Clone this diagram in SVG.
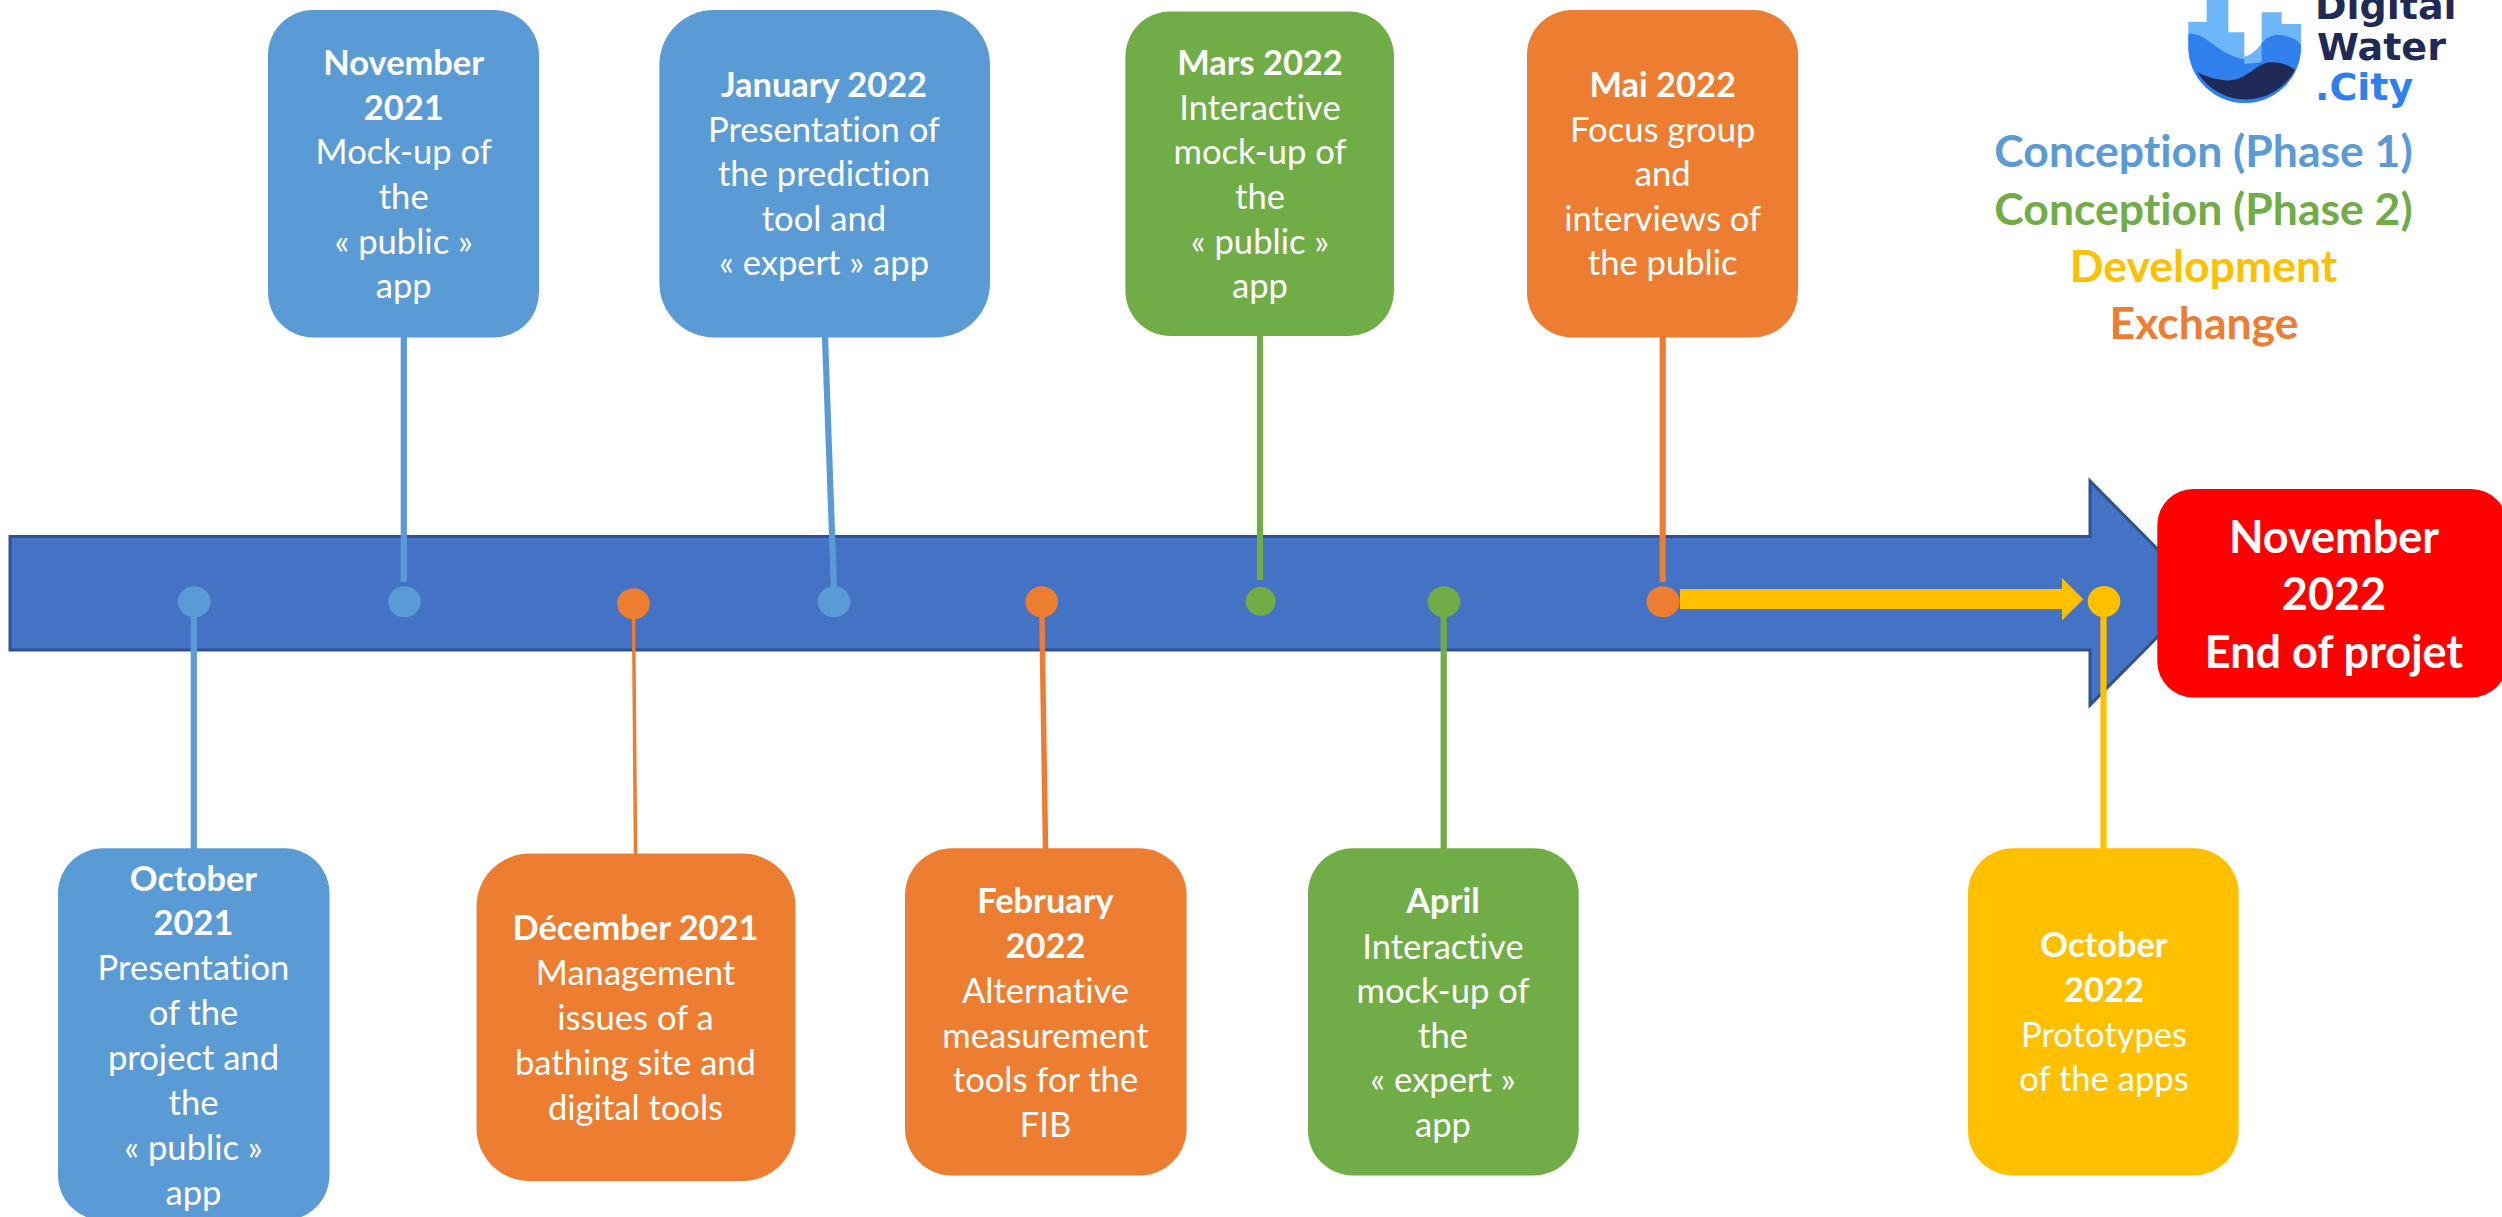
<svg xmlns="http://www.w3.org/2000/svg" width="2502" height="1217" viewBox="0 0 2502 1217">
<style>
text{font-family:"Lato","Noto Sans","Liberation Sans",sans-serif;text-anchor:middle;font-variant-ligatures:none}
.t{font-size:34.6px;fill:#fff}
.b{font-size:34.4px;fill:#fff;font-weight:700}
.big{font-size:45px;fill:#fff;font-weight:700}
.lg{font-size:44.5px;font-weight:700}
.blue{fill:#5B9BD5}.green{fill:#70AD47}.yellow{fill:#FFC000}.orange{fill:#ED7D31}
.sb{stroke:#5B9BD5}.sg{stroke:#70AD47}.sy{stroke:#FFC000}.so{stroke:#ED7D31}
.logo{font-family:"DejaVu Sans","Open Sans",sans-serif;font-size:38px;font-weight:700;text-anchor:start}
</style>
<rect width="2502" height="1217" fill="#fff"/>
<path id="timeline" d="M10,536.5H2090V481L2201,593L2090,705V650H10Z" fill="#4472C4" stroke="#2F528F" stroke-width="3"/>
<g id="connectors" fill="none" stroke-width="6.2">
<line class="sb" x1="193.8" y1="601" x2="193.8" y2="849"/>
<line class="sb" x1="403.8" y1="337" x2="403.8" y2="582"/>
<line class="so" x1="633.5" y1="604" x2="635.5" y2="854" stroke-width="3.5"/>
<line class="sb" x1="825" y1="337" x2="834" y2="590"/>
<line class="so" x1="1041.7" y1="601" x2="1045.5" y2="849" stroke-width="5.5"/>
<line class="sg" x1="1260" y1="336" x2="1260" y2="580"/>
<line class="sg" x1="1443.7" y1="601" x2="1443.7" y2="849"/>
<line class="so" x1="1662.7" y1="337" x2="1662.7" y2="582"/>
<line class="sy" x1="2103.5" y1="601" x2="2103.5" y2="849"/>
<path id="dev-arrow" class="yellow" stroke="none" d="M1680,589H2062V578L2083.3,599.3L2062,620.5V609H1680Z"/>
<g stroke="none">
<ellipse class="blue" cx="194.3" cy="601.7" rx="16.3" ry="15.5"/>
<ellipse class="blue" cx="404.5" cy="601.7" rx="16.3" ry="15.5"/>
<ellipse class="orange" cx="633.5" cy="603.7" rx="16.3" ry="15.5"/>
<ellipse class="blue" cx="834" cy="601.7" rx="16.3" ry="15.5"/>
<ellipse class="orange" cx="1041.7" cy="601.7" rx="16.3" ry="15.5"/>
<ellipse class="green" cx="1260.7" cy="601.2" rx="15" ry="14.5"/>
<ellipse class="green" cx="1444" cy="601.7" rx="16.3" ry="15.5"/>
<ellipse class="orange" cx="1663" cy="601.7" rx="16.5" ry="15.5"/>
<ellipse class="yellow" cx="2104" cy="601.5" rx="16.3" ry="15.5"/>
</g>
</g>
<g id="oct-2021"><rect class="blue" x="58" y="848.3" width="271.5" height="372" rx="45"/>
<text class="b" x="193.5" y="890.5">October</text><text class="b" x="193.5" y="935">2021</text><text class="t" x="193.5" y="980">Presentation</text><text class="t" x="193.5" y="1025">of the</text><text class="t" x="193.5" y="1069.5">project and</text><text class="t" x="193.5" y="1114.5">the</text><text class="t" x="193.5" y="1160">« public »</text><text class="t" x="193.5" y="1204.5">app</text></g>
<g id="nov-2021"><rect class="blue" x="268" y="10" width="271" height="327.5" rx="45"/>
<text class="b" x="403.7" y="75">November</text><text class="b" x="403.7" y="119.7">2021</text><text class="t" x="403.7" y="164.3">Mock-up of</text><text class="t" x="403.7" y="209">the</text><text class="t" x="403.7" y="253.7">« public »</text><text class="t" x="403.7" y="298.3">app</text></g>
<g id="dec-2021"><rect class="orange" x="476.5" y="853.6" width="319" height="327.4" rx="53"/>
<text class="b" x="635.5" y="940">Décember 2021</text><text class="t" x="635.5" y="985.3">Management</text><text class="t" x="635.5" y="1030.3">issues of a</text><text class="t" x="635.5" y="1075.3">bathing site and</text><text class="t" x="635.5" y="1120.3">digital tools</text></g>
<g id="jan-2022"><rect class="blue" x="659.4" y="10" width="330.6" height="327.5" rx="54.5"/>
<text class="b" x="824" y="97">January 2022</text><text class="t" x="824" y="141.5">Presentation of</text><text class="t" x="824" y="186.2">the prediction</text><text class="t" x="824" y="230.7">tool and</text><text class="t" x="824" y="275.3">« expert » app</text></g>
<g id="feb-2022"><rect class="orange" x="905" y="848.3" width="281.6" height="327.2" rx="47"/>
<text class="b" x="1045.5" y="913.3">February</text><text class="b" x="1045.5" y="958">2022</text><text class="t" x="1045.5" y="1003">Alternative</text><text class="t" x="1045.5" y="1047.5">measurement</text><text class="t" x="1045.5" y="1092.3">tools for the</text><text class="t" x="1045.5" y="1137.3">FIB</text></g>
<g id="mar-2022"><rect class="green" x="1125.4" y="11.4" width="268.6" height="324.6" rx="45"/>
<text class="b" x="1260" y="75">Mars 2022</text><text class="t" x="1260" y="119.7">Interactive</text><text class="t" x="1260" y="164.3">mock-up of</text><text class="t" x="1260" y="209">the</text><text class="t" x="1260" y="253.7">« public »</text><text class="t" x="1260" y="298.3">app</text></g>
<g id="apr-2022"><rect class="green" x="1308" y="848.3" width="270.7" height="327.2" rx="45"/>
<text class="b" x="1443" y="913.3">April</text><text class="t" x="1443" y="959">Interactive</text><text class="t" x="1443" y="1003.3">mock-up of</text><text class="t" x="1443" y="1047.8">the</text><text class="t" x="1443" y="1092.3">« expert »</text><text class="t" x="1443" y="1137.3">app</text></g>
<g id="mai-2022"><rect class="orange" x="1527" y="10" width="271" height="327.5" rx="45"/>
<text class="b" x="1662.7" y="97">Mai 2022</text><text class="t" x="1662.7" y="141.5">Focus group</text><text class="t" x="1662.7" y="186.2">and</text><text class="t" x="1662.7" y="230.7">interviews of</text><text class="t" x="1662.7" y="275.3">the public</text></g>
<g id="oct-2022"><rect class="yellow" x="1968" y="848.3" width="270.7" height="327.2" rx="45"/>
<text class="b" x="2104" y="957.3">October</text><text class="b" x="2104" y="1002.3">2022</text><text class="t" x="2104" y="1047.3">Prototypes</text><text class="t" x="2104" y="1091.3">of the apps</text></g>
<g id="nov-2022"><rect x="2157.3" y="489" width="350" height="208.5" rx="36" fill="#FF0000"/>
<text class="big" x="2334" y="552.5">November</text><text class="big" x="2334" y="610">2022</text><text class="big" x="2334" y="667.5">End of projet</text></g>
<g id="legend">
<text class="lg blue" x="2203.5" y="167">Conception (Phase 1)</text>
<text class="lg green" x="2203.5" y="224.5">Conception (Phase 2)</text>
<text class="lg yellow" x="2203.5" y="282">Development</text>
<text class="lg orange" x="2204" y="338.5">Exchange</text>
</g>
<g id="logo">
<g transform="translate(2100,0) scale(0.33333)">
<path fill="#6DB6FA" d="M265,65H320V-5H385V97H433V170C455,165 470,150 485,130V37H545V72H603V140A169,169 0 0 1 265,140Z"/>
<path fill="#2F80ED" d="M265,102C320,95 350,165 433,178V192C455,190 470,190 485,186V130C500,110 520,103 540,105C575,108 603,125 603,140A169,169 0 0 1 265,140Z"/>
<path fill="#1F2A56" d="M292,217C330,235 370,245 400,240C450,230 470,190 510,187C545,185 570,198 585,210A169,169 0 0 1 292,217Z"/>
</g>
<text class="logo" x="2315" y="19" fill="#1F2A56">Digital</text>
<text class="logo" x="2317" y="60" fill="#1F2A56">Water</text>
<text class="logo" x="2315" y="100" fill="#2F80ED">.City</text>
</g>
</svg>
